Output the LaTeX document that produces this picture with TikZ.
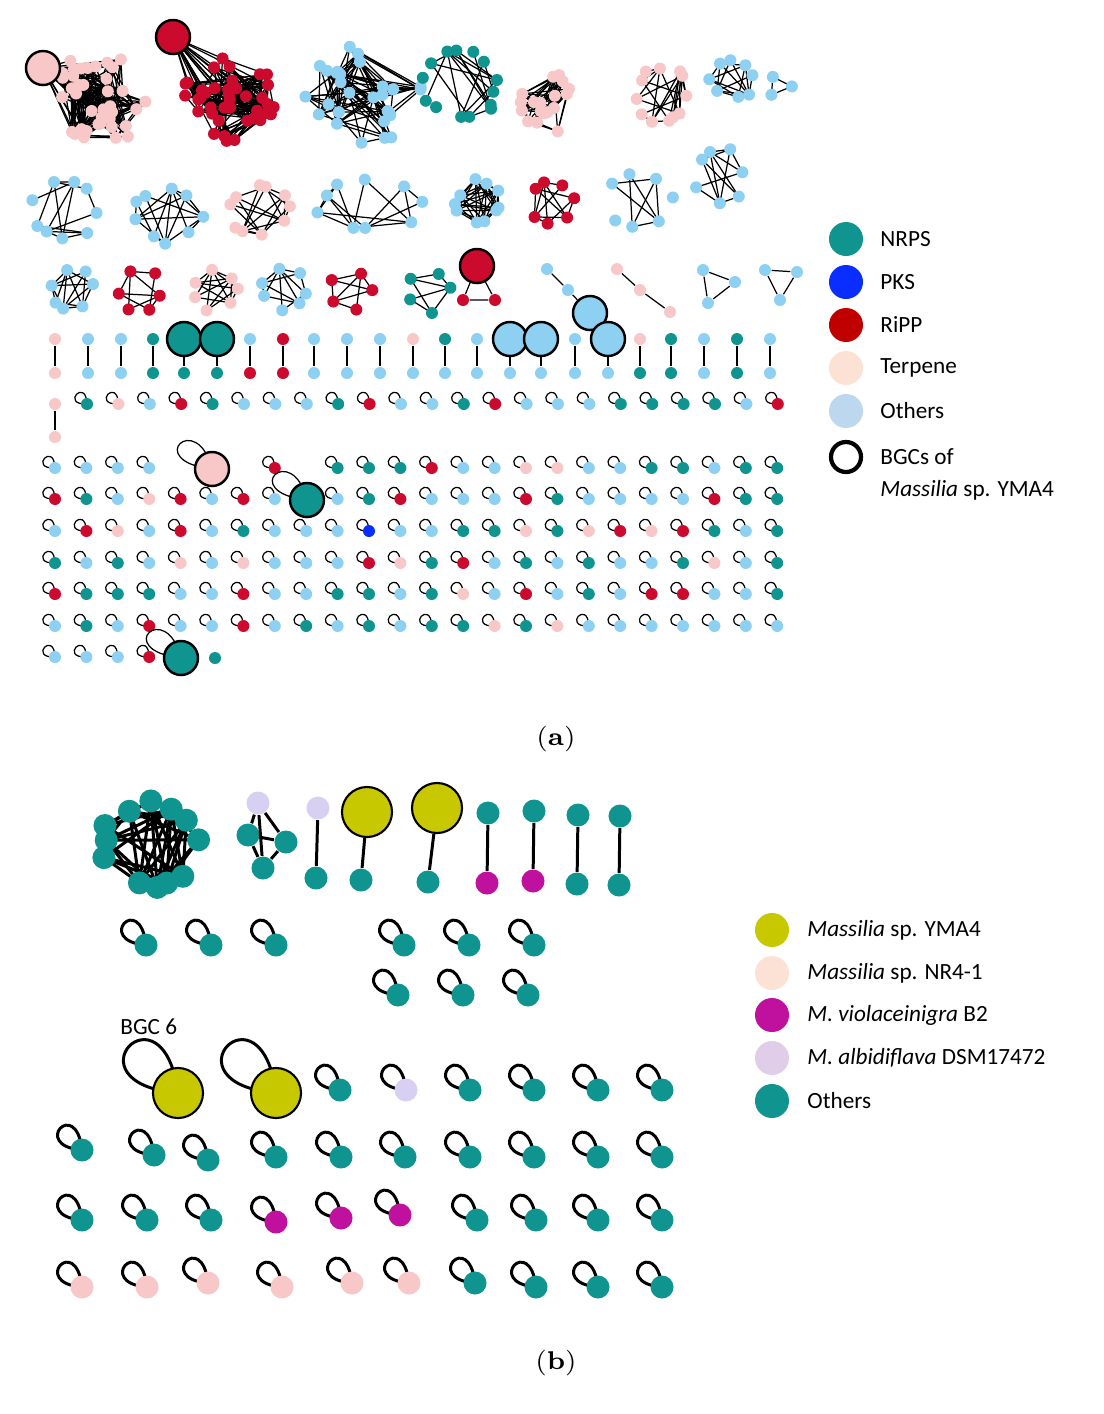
\documentclass[tikz,border=0pt]{standalone}
\usepackage{fontspec}
\newfontfamily\carl{Carlito}
\definecolor{cT}{HTML}{0F9490}
\definecolor{cP}{HTML}{F8C8C8}
\definecolor{cB}{HTML}{8DD0F2}
\definecolor{cR}{HTML}{CC0A2E}
\definecolor{cK}{HTML}{0A2EFF}
\definecolor{lT}{HTML}{0F9490}
\definecolor{lK}{HTML}{0A2EFF}
\definecolor{lR}{HTML}{C00000}
\definecolor{lP}{HTML}{FBE2D5}
\definecolor{lB}{HTML}{BDD7EE}
\definecolor{cO}{HTML}{C8C800}
\definecolor{cM}{HTML}{C0109E}
\definecolor{cL}{HTML}{D8D0F2}
\definecolor{lL}{HTML}{E0CDE8}
\tikzset{
 dotA/.style={circle,inner sep=0,minimum size=0.12cm},
 bigA/.style={circle,inner sep=0,minimum size=0.34cm,draw=black,line width=0.7pt},
 edgeA/.style={line width=0.35pt,black},
 dotB/.style={circle,inner sep=0,minimum size=0.23cm},
 bigB/.style={circle,inner sep=0,minimum size=0.5cm,draw=black,line width=0.6pt},
 edgeB/.style={line width=0.85pt,black},
 leg/.style={circle,inner sep=0,minimum size=0.34cm},
 lt/.style={anchor=west,font=\carl\fontsize{6.6}{8}\selectfont},
}
% random disc cluster
\newcommand\clusE[9]{%
 \foreach \i in {1,...,#6}{\pgfmathsetmacro\ang{360*rnd}\pgfmathsetmacro\rr{sqrt(rnd)}\pgfmathsetmacro\ux{#2+#4*\rr*cos(\ang)}\pgfmathsetmacro\uy{#3+#5*\rr*sin(\ang)}\coordinate (#1\i) at (\ux,\uy);}
 \clusL{#1}{#6}{#8}{#9}}
% ring cluster (jittered)
\newcommand\clusRE[9]{%
 \foreach \i in {1,...,#6}{\pgfmathsetmacro\ang{\i*360/#6+18*rand}\pgfmathsetmacro\rr{0.8+0.2*rnd}\pgfmathsetmacro\ux{#2+#4*\rr*cos(\ang)}\pgfmathsetmacro\uy{#3+#5*\rr*sin(\ang)}\coordinate (#1\i) at (\ux,\uy);}
 \clusL{#1}{#6}{#8}{#9}}
\newcommand\clusL[4]{\foreach \i in {1,...,#2}{\foreach \j in {\i,...,#2}{\pgfmathtruncatemacro\ok{rnd<#3?1:0}\ifnum\ok=1 \draw[edge#4] (#1\i)--(#1\j);\fi}}}
\newcommand\clusN[4]{\foreach \i in {1,...,#2}{\node[dot#4,fill=#3] (#1n\i) at (#1\i){};}}
\newcommand\lpA[4]{\coordinate (#1) at ({#2},{#3});
 \draw[edgeA] (#1) .. controls +(-27,1) and +(-1,-27) .. (#1);
 \node[dotA,fill=#4] (#1n) at (#1){};}
\newcommand\lpB[4]{\coordinate (#1) at ({#2},{#3});
 \draw[edgeB] (#1) .. controls +(-52,-4) and +(-6,-54) .. (#1);
 \node[dotB,fill=#4] (#1n) at (#1){};}
\begin{document}
\begin{tikzpicture}[x=0.01cm,y=-0.01cm]
\useasboundingbox (0,0) rectangle (1104,1414);
\pgfmathsetseed{11}
% ---- panel a top clusters
\coordinate (bp) at (43,68);
\clusE{pk}{98}{100}{52}{48}{40}{cP}{0.22}{A}
\foreach \i in {1,...,22}{\draw[edgeA] (bp)--(pk\i);}
\clusN{pk}{40}{cP}{A}
\node[bigA,fill=cP] (bpn) at (bp){};
\coordinate (br) at (173,37);
\clusE{rd}{228}{100}{50}{42}{40}{cR}{0.22}{A}
\foreach \i in {1,...,18}{\draw[edgeA] (br)--(rd\i);}
\clusN{rd}{40}{cR}{A}
\node[bigA,fill=cR] (brn) at (br){};
\clusE{b1}{360}{98}{62}{55}{28}{cB}{0.25}{A}\clusN{b1}{28}{cB}{A}
\clusRE{t1}{462}{85}{40}{38}{14}{cT}{0.3}{A}\clusN{t1}{14}{cT}{A}
\clusE{p1}{550}{105}{36}{32}{18}{cP}{0.45}{A}\clusN{p1}{18}{cP}{A}
\clusRE{p2}{662}{95}{30}{30}{12}{cP}{0.4}{A}\clusN{p2}{12}{cP}{A}
\clusRE{b2}{733}{80}{25}{20}{8}{cB}{0.6}{A}\clusN{b2}{8}{cB}{A}
\clusRE{b3}{780}{85}{14}{13}{3}{cB}{1}{A}\clusN{b3}{3}{cB}{A}
% row 2
\clusRE{b4}{65}{210}{36}{32}{9}{cB}{0.45}{A}\clusN{b4}{9}{cB}{A}
\clusRE{b5}{168}{215}{36}{30}{9}{cB}{0.45}{A}\clusN{b5}{9}{cB}{A}
\clusRE{p3}{260}{210}{32}{28}{10}{cP}{0.4}{A}\clusN{p3}{10}{cP}{A}
\clusRE{b6}{370}{205}{58}{28}{9}{cB}{0.35}{A}\clusN{b6}{9}{cB}{A}
\clusRE{b7}{478}{203}{24}{24}{10}{cB}{0.8}{A}\clusN{b7}{10}{cB}{A}
\clusRE{r2}{552}{204}{24}{24}{7}{cR}{0.6}{A}\clusN{r2}{7}{cR}{A}
\clusRE{b8}{640}{200}{34}{32}{7}{cB}{0.28}{A}\clusN{b8}{7}{cB}{A}
\clusRE{b9}{720}{175}{26}{32}{7}{cB}{0.5}{A}\clusN{b9}{7}{cB}{A}
% row 3
\clusRE{c1}{72}{290}{24}{24}{7}{cB}{0.7}{A}\clusN{c1}{7}{cB}{A}
\clusRE{c2}{140}{290}{24}{24}{6}{cR}{0.8}{A}\clusN{c2}{6}{cR}{A}
\clusRE{c3}{215}{290}{24}{24}{7}{cP}{0.7}{A}\clusN{c3}{7}{cP}{A}
\clusRE{c4}{285}{290}{24}{24}{7}{cB}{0.7}{A}\clusN{c4}{7}{cB}{A}
\clusRE{c5}{350}{290}{24}{24}{5}{cR}{0.8}{A}\clusN{c5}{5}{cR}{A}
\clusRE{c6}{430}{292}{24}{24}{5}{cT}{0.8}{A}\clusN{c6}{5}{cT}{A}
\node[bigA,fill=cR] (x1) at (477,266){};
\node[dotA,fill=cR] (x2) at (463,300){};
\node[dotA,fill=cR] (x3) at (495,300){};
\draw[edgeA] (x1)--(x2)--(x3)--(x1);
\node[dotA,fill=cB] (y1) at (547,269){};
\node[dotA,fill=cB] (y2) at (568,290){};
\node[bigA,fill=cB] (y3) at (590,313){};
\draw[edgeA] (y1)--(y2)--(y3);
\node[dotA,fill=cP] (z1) at (617,269){};
\node[dotA,fill=cP] (z2) at (640,290){};
\node[dotA,fill=cP] (z3) at (670,312){};
\draw[edgeA] (z1)--(z2)--(z3);
\node[dotA,fill=cB] (w1) at (703,270){};
\node[dotA,fill=cB] (w2) at (735,282){};
\node[dotA,fill=cB] (w3) at (708,303){};
\draw[edgeA] (w1)--(w2)--(w3)--(w1);
\node[dotA,fill=cB] (v1) at (765,270){};
\node[dotA,fill=cB] (v2) at (797,272){};
\node[dotA,fill=cB] (v3) at (780,300){};
\draw[edgeA] (v1)--(v2)--(v3)--(v1);
% pairs row
\foreach \x/\a/\b/\s in {55/cP/cP/dotA,88/cB/cB/dotA,121/cB/cB/dotA,153/cT/cT/dotA,184/cT/cT/bigA,217/cT/cT/bigA,250/cB/cR/dotA,283/cR/cR/dotA,314/cB/cB/dotA,347/cB/cB/dotA,380/cB/cB/dotA,413/cP/cB/dotA,445/cT/cB/dotA,477/cB/cB/dotA,510/cB/cB/bigA,541/cB/cB/bigA,575/cB/cB/dotA,608/cB/cB/bigA,640/cP/cT/dotA,671/cT/cT/dotA,704/cB/cB/dotA,737/cT/cT/dotA,770/cB/cB/dotA}{
 \node[\s,fill=\a] (pt\x) at (\x,339){};
 \node[dotA,fill=\b] (pb\x) at (\x,373){};
 \draw[edgeA] (pt\x)--(pb\x);}
\node[dotA,fill=cP] (q1) at (55,404){};
\node[dotA,fill=cP] (q2) at (55,437){};
\draw[edgeA] (q1)--(q2);
% loops rows
\foreach \c [count=\i] in {T,P,B,R,T,B,B,B,T,R,B,B,T,R,B,B,B,T,T,T,T,B,R}{\lpA{r0-\i}{87+(\i-1)*31.4}{404}{c\c}}
\foreach \c [count=\i] in {B,B,B,B,N,N,N,R,N,T,T,T,R,B,B,P,P,B,B,T,T,B,T,T}{\if N\c\else\lpA{r1-\i}{55+(\i-1)*31.4}{468}{c\c}\fi}
\foreach \c [count=\i] in {R,T,B,P,R,B,R,B,N,B,T,R,B,B,B,R,T,B,B,B,B,R,T,T}{\if N\c\else\lpA{r2-\i}{55+(\i-1)*31.4}{499}{c\c}\fi}
\foreach \c [count=\i] in {B,R,P,B,R,B,T,B,B,B,K,B,B,T,T,P,T,P,R,P,R,T,B,T}{\lpA{r3-\i}{55+(\i-1)*31.4}{531}{c\c}}
\foreach \c [count=\i] in {T,B,T,B,P,B,P,B,B,B,R,P,T,R,B,T,B,T,B,B,T,P,B,T}{\lpA{r4-\i}{55+(\i-1)*31.4}{563}{c\c}}
\foreach \c [count=\i] in {R,T,T,T,B,B,R,B,B,T,T,B,T,P,B,R,B,T,B,R,R,B,B,T}{\lpA{r5-\i}{55+(\i-1)*31.4}{594}{c\c}}
\foreach \c [count=\i] in {B,T,B,R,B,B,R,B,T,B,T,B,T,T,P,T,P,B,B,B,B,B,B,B}{\lpA{r6-\i}{55+(\i-1)*31.4}{626}{c\c}}
\foreach \c [count=\i] in {B,B,B,R}{\lpA{r7-\i}{55+(\i-1)*31.4}{657}{c\c}}
% big loop nodes
\coordinate (g1) at (212,469);
\draw[edgeA] (g1) .. controls +(-70,-8) and +(-15,-60) .. (g1);
\node[bigA,fill=cP] (g1n) at (g1){};
\coordinate (g2) at (307,500);
\draw[edgeA] (g2) .. controls +(-70,-8) and +(-15,-60) .. (g2);
\node[bigA,fill=cT] (g2n) at (g2){};
\coordinate (g3) at (181,658);
\draw[edgeA] (g3) .. controls +(-70,-8) and +(-15,-60) .. (g3);
\node[bigA,fill=cT] (g3n) at (g3){};
\node[dotA,fill=cT] (g4) at (215,658){};
% legend a
\foreach \c/\t/\y in {lT/NRPS/239,lK/PKS/282,lR/RiPP/325,lP/Terpene/368,lB/Others/411}{
 \node[leg,fill=\c] (la\y) at (846,\y){};
 \node[lt] (lat\y) at (868,\y){\t};}
\node[leg,draw=black,line width=1.2pt,minimum size=0.3cm] (la457) at (846,457){};
\node[lt] (lat457) at (868,457){BGCs of};
\node[lt] (lat485) at (868,490){\itshape Massilia\upshape\ sp. YMA4};
\node (capa) at (556,739) {\fontsize{7.3}{9}\selectfont(\textbf{a})};
% ---- panel b
\clusRE{bb}{150}{845}{50}{48}{12}{cT}{0.6}{B}\clusN{bb}{12}{cT}{B}
\node[dotB,fill=cL] (k1) at (258,803){};
\node[dotB,fill=cT] (k2) at (248,835){};
\node[dotB,fill=cT] (k3) at (286,842){};
\node[dotB,fill=cT] (k4) at (263,868){};
\draw[edgeB] (k1)--(k2)--(k3)--(k1)--(k4)--(k2) (k3)--(k4);
\foreach \n/\x/\y/\a/\s/\u/\v/\b in {1/318/808/cL/dotB/316/878/cT,2/367/812/cO/bigB/361/880/cT,3/437/808/cO/bigB/428/882/cT,4/488/813/cT/dotB/487/883/cM,5/534/811/cT/dotB/533/881/cM,6/578/815/cT/dotB/577/884/cT,7/620/816/cT/dotB/619/885/cT}{
 \node[\s,fill=\a] (bt\n) at (\x,\y){};
 \node[dotB,fill=\b] (bd\n) at (\u,\v){};
 \draw[edgeB] (bt\n)--(bd\n);}
\foreach \x [count=\i] in {146,211,276,404,469,534}{\lpB{s1-\i}{\x}{945}{cT}}
\foreach \x [count=\i] in {398,463,528}{\lpB{s2-\i}{\x}{995}{cT}}
\foreach \x/\c [count=\i] in {340/cT,406/cL,470/cT,534/cT,598/cT,662/cT}{\lpB{s3-\i}{\x}{1090}{\c}}
\foreach \x/\y [count=\i] in {82/1150,154/1155,208/1160,276/1157,341/1157,405/1157,470/1157,534/1157,598/1157,662/1157}{\lpB{s4-\i}{\x}{\y}{cT}}
\foreach \x/\y/\c [count=\i] in {82/1220/cT,147/1220/cT,211/1220/cT,276/1222/cM,341/1218/cM,400/1215/cM,477/1220/cT,536/1220/cT,598/1220/cT,662/1220/cT}{\lpB{s5-\i}{\x}{\y}{\c}}
\foreach \x/\y/\c [count=\i] in {82/1287/cP,147/1287/cP,208/1283/cP,282/1287/cP,352/1283/cP,409/1283/cP,475/1283/cT,536/1287/cT,598/1287/cT,662/1287/cT}{\lpB{s6-\i}{\x}{\y}{\c}}
\coordinate (o1) at (178,1093);
\draw[edgeB] (o1) .. controls +(-115,-10) and +(-15,-115) .. (o1);
\node[bigB,fill=cO] (o1n) at (o1){};
\coordinate (o2) at (276,1093);
\draw[edgeB] (o2) .. controls +(-115,-10) and +(-15,-115) .. (o2);
\node[bigB,fill=cO] (o2n) at (o2){};
\node[lt] (bgc6) at (108,1027){BGC 6};
% legend b
\foreach \c/\t/\y in {cO/{\itshape Massilia\upshape\ sp. YMA4}/930,lP/{\itshape Massilia\upshape\ sp. NR4-1}/973,cM/{\itshape M. violaceinigra\upshape\ B2}/1015,lL/{\itshape M. albidiflava\upshape\ DSM17472}/1058,cT/Others/1101}{
 \node[leg,fill=\c] (lb\y) at (772,\y){};
 \node[lt] (lbt\y) at (795,\y){\t};}
\node (capb) at (556,1363) {\fontsize{7.3}{9}\selectfont(\textbf{b})};
\end{tikzpicture}
\end{document}
